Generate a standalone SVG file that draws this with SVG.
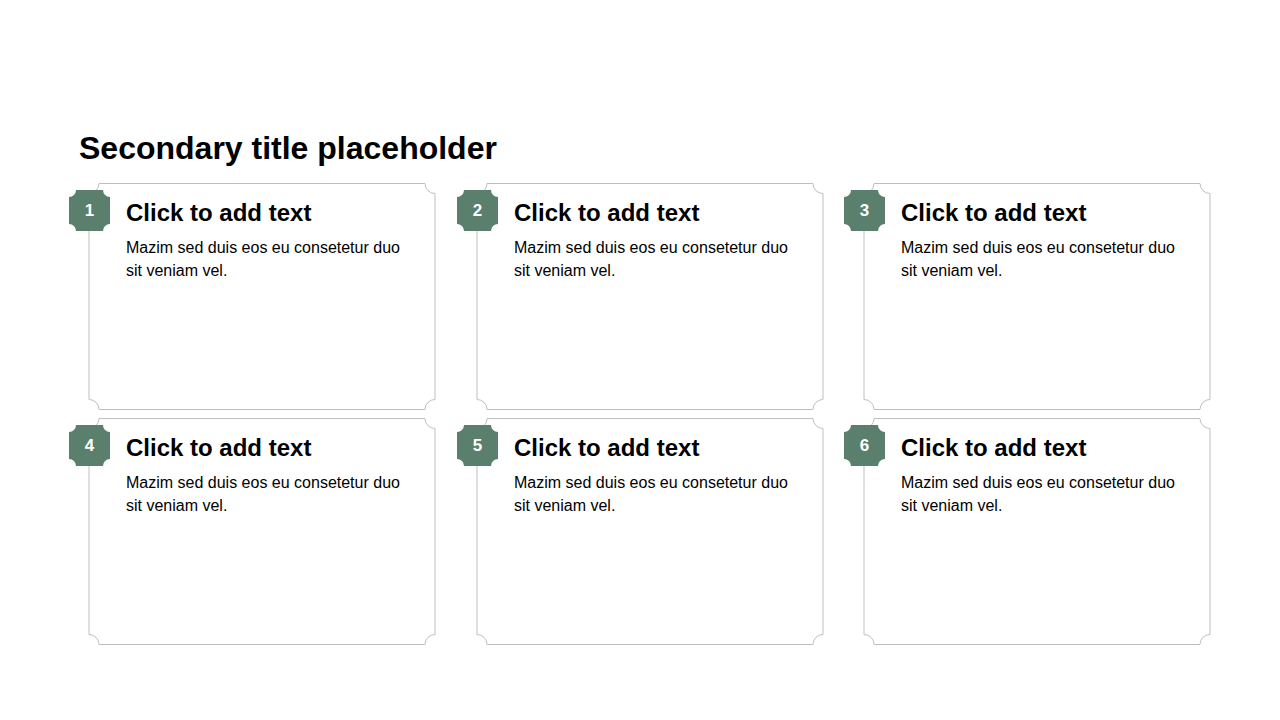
<svg xmlns="http://www.w3.org/2000/svg" width="1280" height="720" viewBox="0 0 1280 720">
  <style>
    .card { fill: #FFFFFF; stroke: #BFBFBF; stroke-width: 1; }
    .badge { fill: #5B7F6D; }
    .num { font-family: "Liberation Sans", Arial, sans-serif; font-weight: bold; font-size: 17px; fill: #FFFFFF; text-anchor: middle; }
    .head { font-family: "Liberation Sans", Arial, sans-serif; font-weight: bold; font-size: 24px; fill: #000000; }
    .body { font-family: "Liberation Sans", Arial, sans-serif; font-size: 16px; fill: #000000; }
    .title { font-family: "Liberation Sans", Arial, sans-serif; font-weight: bold; font-size: 32px; fill: #000000; }
  </style>
  <defs>
    <path id="cardShape" d="M10,0 H336 A10 10 0 0 0 346,10 V216 A10 10 0 0 0 336,226 H10 A10 10 0 0 0 0,216 V10 A10 10 0 0 0 10,0 Z"/>
    <path id="badgeShape" d="M7,0 H34 A7 7 0 0 0 41,7 V34 A7 7 0 0 0 34,41 H7 A7 7 0 0 0 0,34 V7 A7 7 0 0 0 7,0 Z"/>
  </defs>
  <rect width="1280" height="720" fill="#FFFFFF"/>
  <text class="title" x="79" y="158.5">Secondary title placeholder</text>

  <g id="card1" transform="translate(89,183.5)">
    <use href="#cardShape" class="card"/>
    <use href="#badgeShape" class="badge" x="-20" y="6.5"/>
    <text class="num" x="0.5" y="32.5">1</text>
    <text class="head" x="37" y="37.5">Click to add text</text>
    <text class="body" x="37" y="69.5">Mazim sed duis eos eu consetetur duo</text>
    <text class="body" x="37" y="92.5">sit veniam vel.</text>
  </g>
  <g id="card2" transform="translate(477,183.5)">
    <use href="#cardShape" class="card"/>
    <use href="#badgeShape" class="badge" x="-20" y="6.5"/>
    <text class="num" x="0.5" y="32.5">2</text>
    <text class="head" x="37" y="37.5">Click to add text</text>
    <text class="body" x="37" y="69.5">Mazim sed duis eos eu consetetur duo</text>
    <text class="body" x="37" y="92.5">sit veniam vel.</text>
  </g>
  <g id="card3" transform="translate(864,183.5)">
    <use href="#cardShape" class="card"/>
    <use href="#badgeShape" class="badge" x="-20" y="6.5"/>
    <text class="num" x="0.5" y="32.5">3</text>
    <text class="head" x="37" y="37.5">Click to add text</text>
    <text class="body" x="37" y="69.5">Mazim sed duis eos eu consetetur duo</text>
    <text class="body" x="37" y="92.5">sit veniam vel.</text>
  </g>
  <g id="card4" transform="translate(89,418.5)">
    <use href="#cardShape" class="card"/>
    <use href="#badgeShape" class="badge" x="-20" y="6.5"/>
    <text class="num" x="0.5" y="32.5">4</text>
    <text class="head" x="37" y="37.5">Click to add text</text>
    <text class="body" x="37" y="69.5">Mazim sed duis eos eu consetetur duo</text>
    <text class="body" x="37" y="92.5">sit veniam vel.</text>
  </g>
  <g id="card5" transform="translate(477,418.5)">
    <use href="#cardShape" class="card"/>
    <use href="#badgeShape" class="badge" x="-20" y="6.5"/>
    <text class="num" x="0.5" y="32.5">5</text>
    <text class="head" x="37" y="37.5">Click to add text</text>
    <text class="body" x="37" y="69.5">Mazim sed duis eos eu consetetur duo</text>
    <text class="body" x="37" y="92.5">sit veniam vel.</text>
  </g>
  <g id="card6" transform="translate(864,418.5)">
    <use href="#cardShape" class="card"/>
    <use href="#badgeShape" class="badge" x="-20" y="6.5"/>
    <text class="num" x="0.5" y="32.5">6</text>
    <text class="head" x="37" y="37.5">Click to add text</text>
    <text class="body" x="37" y="69.5">Mazim sed duis eos eu consetetur duo</text>
    <text class="body" x="37" y="92.5">sit veniam vel.</text>
  </g>
  <g id="connectors"/>
</svg>
